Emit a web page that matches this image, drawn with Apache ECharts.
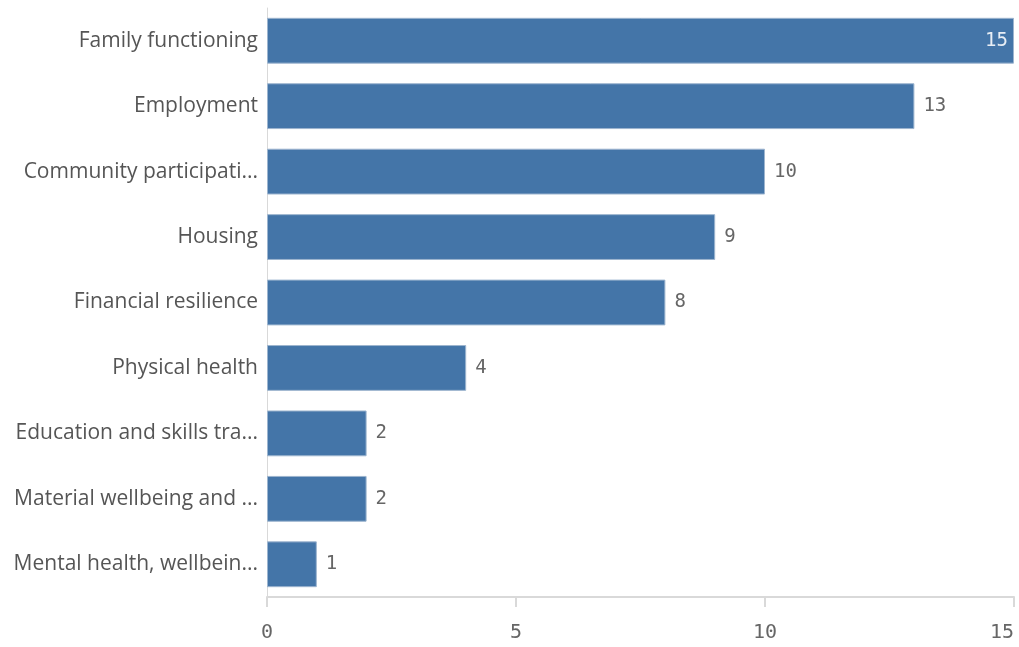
<!DOCTYPE html>
<html><head><meta charset="utf-8">
<script src="https://cdn.jsdelivr.net/npm/echarts@6/dist/echarts.min.js"></script>
<style>html,body{margin:0;padding:0;background:#fff}#c{width:1019px;height:647px}</style>
</head><body><div id="c"></div>
<script>
const categories = ["Family functioning","Employment","Community participati...","Housing","Financial resilience","Physical health","Education and skills tra...","Material wellbeing and ...","Mental health, wellbein..."];
const values = [15,13,10,9,8,4,2,2,1];
const xTicks = [0,5,10,15];

const chart = echarts.init(document.getElementById('c'));
chart.setOption({
  animation:false,
  grid:{left:267,right:5,top:8,bottom:50,outerBoundsMode:'none',containLabel:false},
  xAxis:{type:'value',min:0,max:15,interval:5,
    axisLine:{show:true,lineStyle:{color:'#d9d9d9',width:2}},
    axisTick:{show:true,length:10,lineStyle:{color:'#d9d9d9',width:2}},
    splitLine:{show:false},
    axisLabel:{margin:26,color:'#666',fontFamily:'DejaVu Sans Mono',fontSize:20,alignMaxLabel:'right',
      formatter:v=>xTicks.includes(v)?String(v):''}},
  yAxis:{type:'category',inverse:true,data:categories,
    axisLine:{show:true,lineStyle:{color:'#d9d9d9',width:1}},
    axisTick:{show:false},
    axisLabel:{margin:9,color:'#555',fontFamily:'Open Sans',fontSize:21}},
  series:[{type:'bar',data:values.map((v,i)=>({value:v,label:i===0?{position:'insideRight',color:'#e8eef5',distance:6}:{}})),
    barCategoryGap:'30%',
    itemStyle:{color:'#4475a8',borderColor:'#9db5cf',borderWidth:1},
    label:{show:true,position:'right',distance:9,color:'#666',fontFamily:'DejaVu Sans Mono',fontSize:19}}]
});
</script></body></html>
